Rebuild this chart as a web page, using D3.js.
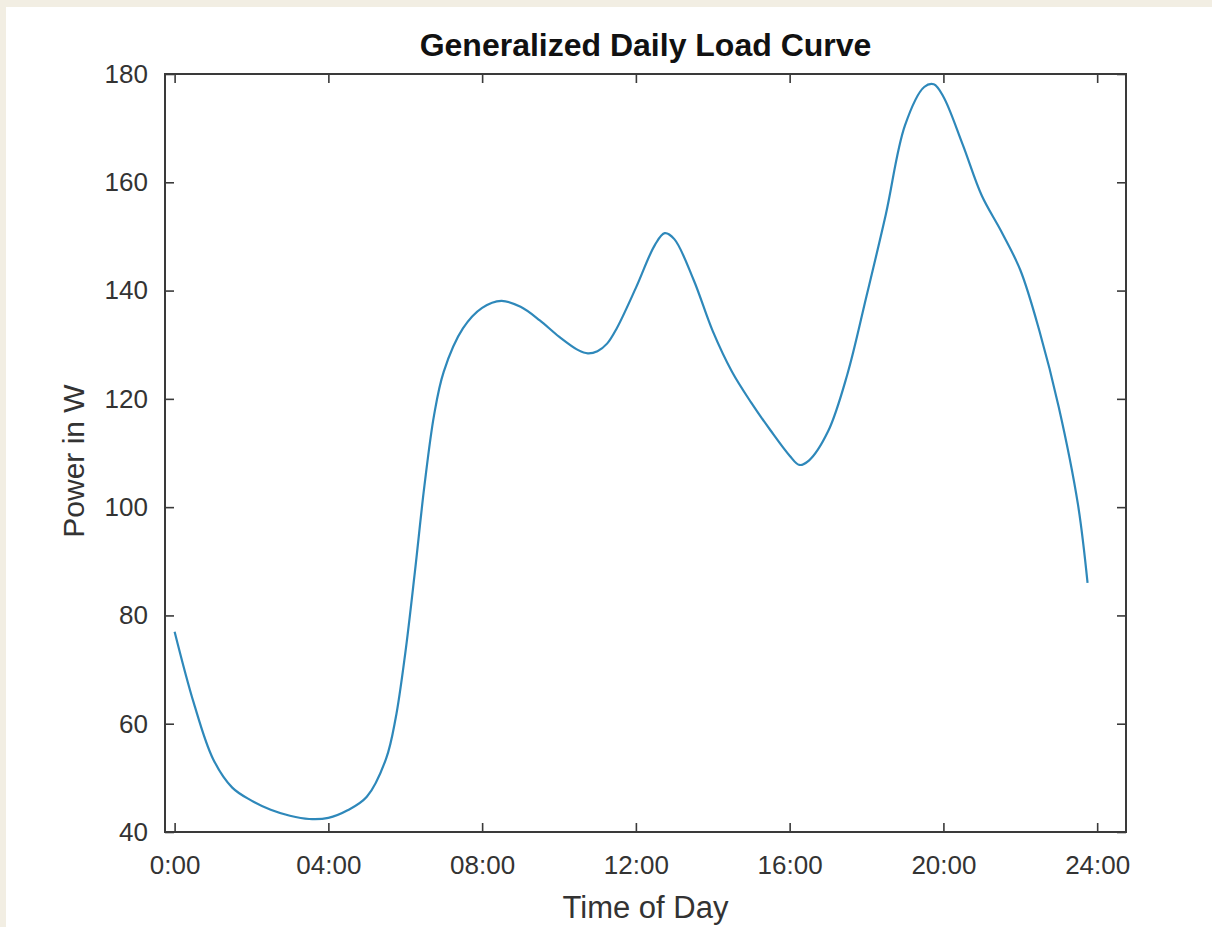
<!DOCTYPE html>
<html>
<head>
<meta charset="utf-8">
<script src="https://cdn.jsdelivr.net/npm/d3@7"></script>
<style>
  html, body { margin: 0; padding: 0; background: #ffffff; }
  svg { display: block; }
  text { font-family: "Liberation Sans", Arial, Helvetica, sans-serif; }
</style>
</head>
<body>
<script>
// Hour of day for each sample
const hours = [0, 0.5, 1, 1.5, 2, 2.5, 3, 3.5, 4, 4.5, 5, 5.5, 5.75, 6, 6.25, 6.5, 6.75, 7,
  7.5, 8, 8.5, 9, 9.5, 10, 10.5, 10.75, 11, 11.25, 11.5, 12, 12.5, 12.75, 13, 13.5, 14, 14.5,
  15, 15.5, 16, 16.25, 16.5, 17, 17.5, 18, 18.5, 19, 19.5, 19.75, 20, 20.5, 21, 21.5, 22,
  22.5, 23, 23.5, 23.75];
// Power draw in W
const power = [77, 63.8, 53.5, 48.2, 45.8, 44.1, 43.0, 42.4, 42.6, 44.0, 46.5, 53.5, 61, 73, 88, 104, 117, 125,
  133, 136.8, 138.1, 137.0, 134.5, 131.5, 129, 128.4, 128.8, 130.2, 133, 140.5, 148.5, 150.6, 149.5, 142, 132.5, 125.0,
  119.3, 114.2, 109.5, 107.8, 108.6, 114, 124.5, 139, 154, 170.5, 177.6, 178.1, 175.8, 167, 157.5, 151, 143.8,
  132.5, 118.5, 100.5, 86];

const xTickValues = [0, 4, 8, 12, 16, 20, 24];
const xTickLabels = ["0:00", "04:00", "08:00", "12:00", "16:00", "20:00", "24:00"];
const yTickValues = [40, 60, 80, 100, 120, 140, 160, 180];

const W = 1212, H = 927;
const box = { left: 165, right: 1126, top: 74, bottom: 832 };

const svg = d3.select("body").append("svg").attr("width", W).attr("height", H);

// page background with beige margin strips
svg.append("rect").attr("width", W).attr("height", H).attr("fill", "#f2eee3");
svg.append("rect").attr("x", 6).attr("y", 7).attr("width", W - 6).attr("height", H - 7).attr("fill", "#ffffff");

const x = d3.scaleLinear().domain([-0.25, 24.75]).range([box.left, box.right]);
const y = d3.scaleLinear().domain([40, 180]).range([box.bottom, box.top]);

const axisColor = "#3a3a3a";
const tickLen = 9;
const fmtX = (d) => xTickLabels[xTickValues.indexOf(d)];

function styleAxis(g) {
  g.select(".domain").remove();
  g.selectAll(".tick line").attr("stroke", axisColor).attr("stroke-width", 1.6);
  g.selectAll(".tick text").attr("fill", "#333333").style("font-size", "26px");
}

// bottom axis with labels
svg.append("g").attr("transform", `translate(0,${box.bottom})`)
  .call(d3.axisBottom(x).tickValues(xTickValues).tickFormat(fmtX).tickSizeInner(-tickLen).tickSizeOuter(0).tickPadding(24))
  .call(styleAxis);
// top mirror ticks
svg.append("g").attr("transform", `translate(0,${box.top})`)
  .call(d3.axisTop(x).tickValues(xTickValues).tickFormat("").tickSizeInner(-tickLen).tickSizeOuter(0))
  .call(styleAxis);
// left axis with labels
svg.append("g").attr("transform", `translate(${box.left},0)`)
  .call(d3.axisLeft(y).tickValues(yTickValues).tickFormat(d3.format("d")).tickSizeInner(-tickLen).tickSizeOuter(0).tickPadding(17))
  .call(styleAxis);
// right mirror ticks
svg.append("g").attr("transform", `translate(${box.right},0)`)
  .call(d3.axisRight(y).tickValues(yTickValues).tickFormat("").tickSizeInner(-tickLen).tickSizeOuter(0))
  .call(styleAxis);

// frame
svg.append("rect")
  .attr("x", box.left).attr("y", box.top)
  .attr("width", box.right - box.left).attr("height", box.bottom - box.top)
  .attr("fill", "none").attr("stroke", axisColor).attr("stroke-width", 2);

// load curve
const data = hours.map((h, i) => ({ h, p: power[i] }));
const line = d3.line().x(d => x(d.h)).y(d => y(d.p)).curve(d3.curveCatmullRom.alpha(0.5));
svg.append("path").datum(data)
  .attr("d", line)
  .attr("fill", "none")
  .attr("stroke", "#2e88ba")
  .attr("stroke-width", 2.2)
  .attr("stroke-linejoin", "round");

// title and axis labels
const cx = (box.left + box.right) / 2;
svg.append("text").attr("x", cx).attr("y", 56).attr("text-anchor", "middle")
  .style("font-size", "32px").style("font-weight", "bold").attr("fill", "#111111")
  .text("Generalized Daily Load Curve");
svg.append("text").attr("x", cx).attr("y", 918).attr("text-anchor", "middle")
  .style("font-size", "31px").attr("fill", "#333333")
  .text("Time of Day");
svg.append("text").attr("transform", `translate(84,${(box.top + box.bottom) / 2 + 8}) rotate(-90)`)
  .attr("text-anchor", "middle")
  .style("font-size", "30px").attr("fill", "#333333")
  .text("Power in W");
</script>
</body>
</html>
